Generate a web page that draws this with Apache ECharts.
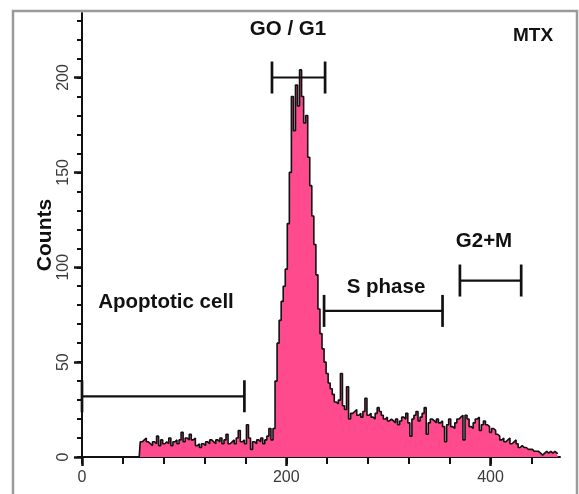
<!DOCTYPE html>
<html>
<head>
<meta charset="utf-8">
<script src="https://cdn.jsdelivr.net/npm/echarts@6/dist/echarts.min.js"></script>
<style>
  html, body { margin: 0; padding: 0; background: #ffffff; }
  #chart { width: 579px; height: 494px; }
</style>
</head>
<body>
<div id="chart"></div>
<script>
// DNA content histogram: counts per channel bin (bins of width 2 starting at channel 56)
const binStart = 56;
const binWidth = 2;
const counts = [
  0,
  8, 9, 10, 8, 7, 6, 8, 7, 11,
  6, 9, 7, 8, 7, 10, 6, 8, 9, 7,
  9, 13, 8, 10, 9, 12, 9, 10, 6, 7,
  5, 7, 6, 8, 7, 9, 8, 7, 9, 8,
  10, 7, 9, 12, 7, 8, 9, 7, 10, 14,
  8, 9, 7, 17, 10, 4, 8, 7, 9, 8,
  10, 7, 9, 11, 15, 9, 15, 40, 60, 72,
  82, 90, 99, 123, 150, 190, 172, 196, 185, 204,
  190, 176, 180, 158, 143, 127, 112, 96, 78, 65,
  57, 50, 44, 39, 36, 33, 29, 28, 30, 44,
  27, 25, 37, 20, 23, 24, 25, 22, 23, 21,
  24, 31, 22, 23, 21, 20, 23, 26, 24, 22,
  20, 21, 19, 20, 19, 18, 20, 17, 19, 21,
  20, 23, 18, 11, 20, 22, 24, 19, 21, 23,
  26, 12, 18, 20, 19, 18, 20, 18, 19, 16,
  8, 17, 20, 16, 15, 18, 20, 21, 22, 9,
  22, 20, 16, 15, 18, 20, 21, 14, 17, 19,
  17, 16, 13, 15, 14, 12, 11, 9, 10, 8,
  9, 10, 7, 8, 9, 7, 5, 6, 5, 5,
  4, 4, 4, 3, 3, 3, 2, 1, 2, 3,
  2, 3, 2, 3, 2, 2
];

// Axis ticks and labels
const xTicks = [0, 40, 80, 120, 160, 200, 240, 280, 320, 360, 400, 440];
const xLabels = [0, 200, 400];
const yTicks = [0, 10, 20, 30, 40, 50, 60, 70, 80, 90, 100, 110, 120, 130, 140, 150, 160, 170, 180, 190, 200, 210, 220, 230];
const yLabels = [0, 50, 100, 150, 200];

// Cell-cycle gates (channel range and the count level the marker sits at)
const gateNames = ['GO / G1', 'S phase', 'G2+M', 'Apoptotic cell'];
const gateFrom = [186, 237, 370, 0];
const gateTo = [238, 353, 430, 159];
const gateLevel = [200, 77, 93, 32];

const histData = counts.map((c, i) => [binStart + i * binWidth, c]);
const gateData = gateNames.map((n, i) => [gateFrom[i], gateTo[i], gateLevel[i]]);

const X_MAX = 468;
const Y_MAX = 234;
const labelFont = 'Liberation Sans, Arial, Helvetica, sans-serif';

const chart = echarts.init(document.getElementById('chart'), null, { renderer: 'canvas' });

chart.setOption({
  animation: false,
  backgroundColor: '#ffffff',
  grid: { left: 82, right: 19, top: 13, bottom: 37, containLabel: false },
  xAxis: [
    {
      type: 'value', min: 0, max: X_MAX, position: 'bottom',
      axisLine: { show: true, lineStyle: { color: '#111', width: 2 } },
      axisTick: { show: true, customValues: xTicks, length: 7, lineStyle: { color: '#111', width: 2 } },
      axisLabel: { show: false },
      splitLine: { show: false }
    },
    {
      type: 'value', min: 0, max: X_MAX, position: 'bottom',
      axisLine: { show: false },
      axisTick: { show: true, customValues: xLabels, length: 9, lineStyle: { color: '#111', width: 2.5 } },
      axisLabel: {
        show: true, customValues: xLabels, margin: 13,
        fontSize: 16, color: '#3a3a3a', fontFamily: labelFont
      },
      splitLine: { show: false }
    }
  ],
  yAxis: [
    {
      type: 'value', min: 0, max: Y_MAX, position: 'left',
      axisLine: { show: true, lineStyle: { color: '#111', width: 2 } },
      axisTick: { show: true, customValues: yTicks, length: 5, lineStyle: { color: '#111', width: 2 } },
      axisLabel: { show: false },
      splitLine: { show: false }
    },
    {
      type: 'value', min: 0, max: Y_MAX, position: 'left',
      axisLine: { show: false },
      axisTick: { show: true, customValues: yLabels, length: 8, lineStyle: { color: '#111', width: 2.5 } },
      axisLabel: {
        show: true, customValues: yLabels, rotate: 90, margin: 10,
        fontSize: 16, color: '#3a3a3a', fontFamily: labelFont
      },
      name: 'Counts',
      nameLocation: 'middle',
      nameRotate: 90,
      nameGap: 26,
      nameMoveOverlap: false,
      nameTextStyle: { fontSize: 21, fontWeight: 'bold', color: '#111', fontFamily: labelFont },
      splitLine: { show: false }
    }
  ],
  series: [
    {
      name: 'Counts',
      type: 'line',
      xAxisIndex: 0, yAxisIndex: 0,
      data: histData,
      step: 'middle',
      showSymbol: false,
      symbol: 'none',
      lineStyle: { color: '#111', width: 1.6 },
      areaStyle: { color: '#ff4a8d', opacity: 1 },
      z: 2
    },
    {
      name: 'Gates',
      type: 'custom',
      xAxisIndex: 0, yAxisIndex: 0,
      data: gateData,
      clip: false,
      z: 5,
      renderItem: function (params, api) {
        const y = api.value(2);
        const p1 = api.coord([api.value(0), y]);
        const p2 = api.coord([api.value(1), y]);
        const h = 16;
        return {
          type: 'group',
          children: [
            { type: 'line', shape: { x1: p1[0], y1: p1[1], x2: p2[0], y2: p2[1] }, style: { stroke: '#111', lineWidth: 2.2 } },
            { type: 'line', shape: { x1: p1[0], y1: p1[1] - h, x2: p1[0], y2: p1[1] + h }, style: { stroke: '#111', lineWidth: 2.7 } },
            { type: 'line', shape: { x1: p2[0], y1: p2[1] - h, x2: p2[0], y2: p2[1] + h }, style: { stroke: '#111', lineWidth: 2.7 } }
          ]
        };
      }
    }
  ],
  graphic: [
    {
      type: 'rect', silent: true, z: 100,
      shape: { x: 13, y: 11, width: 564, height: 500 },
      style: { fill: null, stroke: '#9a9a9a', lineWidth: 2.5 }
    },
    {
      type: 'text', x: 288, y: 29, z: 100,
      style: { text: gateNames[0], font: 'bold 20.5px ' + labelFont, fill: '#111', align: 'center', verticalAlign: 'middle' }
    },
    {
      type: 'text', x: 533, y: 36, z: 100,
      style: { text: 'MTX', font: 'bold 19px ' + labelFont, fill: '#111', align: 'center', verticalAlign: 'middle' }
    },
    {
      type: 'text', x: 386, y: 287, z: 100,
      style: { text: gateNames[1], font: 'bold 20.5px ' + labelFont, fill: '#111', align: 'center', verticalAlign: 'middle' }
    },
    {
      type: 'text', x: 484, y: 241, z: 100,
      style: { text: gateNames[2], font: 'bold 20.5px ' + labelFont, fill: '#111', align: 'center', verticalAlign: 'middle' }
    },
    {
      type: 'text', x: 166, y: 302, z: 100,
      style: { text: gateNames[3], font: 'bold 20.5px ' + labelFont, fill: '#111', align: 'center', verticalAlign: 'middle' }
    }
  ]
});
</script>
</body>
</html>
